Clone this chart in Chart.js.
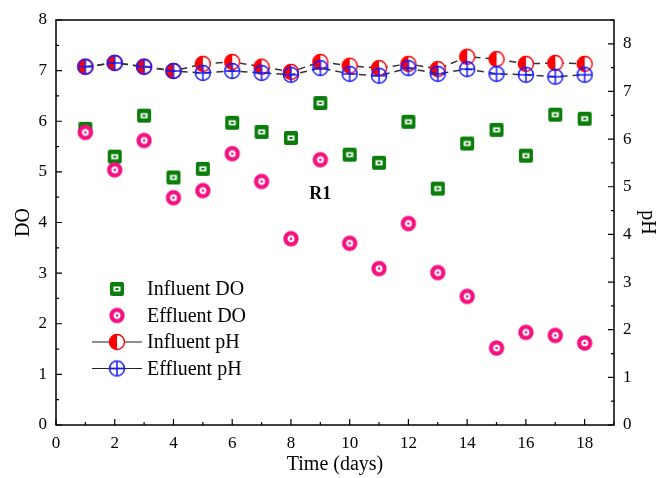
<!DOCTYPE html>
<html>
  <head>
    <meta charset="utf-8" />
    <title>DO and pH, R1</title>
    <script src="https://cdn.jsdelivr.net/npm/chart.js@4"></script>
    <style>
      body { margin: 0; background: #fff; }
      #wrap { width: 659px; height: 478px; }
    </style>
  </head>
  <body>
    <div id="wrap"><canvas id="doPhCanvas"></canvas></div>
    <script>
      const days = [1, 2, 3, 4, 5, 6, 7, 8, 9, 10, 11, 12, 13, 14, 15, 16, 17, 18];
      const influentDO = [5.85, 5.3, 6.11, 4.89, 5.06, 5.97, 5.79, 5.67, 6.36, 5.34, 5.18, 5.99, 4.67, 5.56, 5.83, 5.32, 6.13, 6.05];
      const effluentDO = [5.78, 5.04, 5.62, 4.49, 4.63, 5.36, 4.81, 3.68, 5.24, 3.59, 3.09, 3.98, 3.01, 2.54, 1.52, 1.83, 1.77, 1.62];
      const influentPH = [7.52, 7.6, 7.52, 7.43, 7.58, 7.62, 7.52, 7.41, 7.62, 7.54, 7.49, 7.58, 7.47, 7.73, 7.68, 7.58, 7.6, 7.58];
      const effluentPH = [7.52, 7.6, 7.52, 7.43, 7.39, 7.43, 7.39, 7.35, 7.49, 7.37, 7.33, 7.49, 7.37, 7.47, 7.37, 7.35, 7.31, 7.35];
      const xTicks = [0, 2, 4, 6, 8, 10, 12, 14, 16, 18];
      const doTicks = [0, 1, 2, 3, 4, 5, 6, 7, 8];
      const phTicks = [0, 1, 2, 3, 4, 5, 6, 7, 8];
      const seriesNames = ["Influent DO", "Effluent DO", "Influent pH", "Effluent pH"];
      const plotLabel = "R1";

      const FONT = "'Liberation Serif', 'Times New Roman', serif";
      const GREEN = "#0a7d0a";
      const PINK = "#f5107f";
      const RED = "#ff0000";
      const BLUE = "#1a1aff";

      function makeMarker(kind) {
        const c = document.createElement("canvas");
        c.width = 20;
        c.height = 20;
        const g = c.getContext("2d");
        const m = 10;
        if (kind === "square") {
          g.fillStyle = GREEN;
          g.beginPath();
          g.roundRect(m - 7, m - 7, 14, 14, 2);
          g.fill();
          g.fillStyle = "#fff";
          g.fillRect(m - 3.5, m - 2.5, 7, 5);
          g.fillStyle = GREEN;
          g.fillRect(m - 1.5, m - 1, 3, 2);
        } else if (kind === "ring") {
          g.strokeStyle = PINK;
          g.lineWidth = 4.2;
          g.fillStyle = "#fff";
          g.beginPath();
          g.arc(m, m, 5.6, 0, Math.PI * 2);
          g.fill();
          g.stroke();
          g.fillStyle = PINK;
          g.beginPath();
          g.arc(m, m, 1.3, 0, Math.PI * 2);
          g.fill();
        } else if (kind === "half") {
          g.fillStyle = "#fff";
          g.beginPath();
          g.arc(m, m, 7.5, 0, Math.PI * 2);
          g.fill();
          g.fillStyle = RED;
          g.beginPath();
          g.arc(m, m, 7.5, Math.PI / 2, Math.PI * 1.5);
          g.closePath();
          g.fill();
          g.strokeStyle = RED;
          g.lineWidth = 1.4;
          g.beginPath();
          g.arc(m, m, 7.5, 0, Math.PI * 2);
          g.stroke();
        } else {
          g.strokeStyle = BLUE;
          g.lineWidth = 1.5;
          g.beginPath();
          g.arc(m, m, 7.5, 0, Math.PI * 2);
          g.stroke();
          g.beginPath();
          g.moveTo(m - 7.5, m);
          g.lineTo(m + 7.5, m);
          g.moveTo(m, m - 7.5);
          g.lineTo(m, m + 7.5);
          g.stroke();
        }
        return c;
      }

      const markers = {
        square: makeMarker("square"),
        ring: makeMarker("ring"),
        half: makeMarker("half"),
        cross: makeMarker("cross"),
      };

      function pts(ys) {
        return days.map((d, i) => ({ x: d, y: ys[i] }));
      }

      // frame, inward ticks, the "R1" note and the legend inside the plot
      const decorations = {
        id: "decorations",
        afterDraw(chart) {
          const ctx = chart.ctx;
          const a = chart.chartArea;
          const sx = chart.scales.x;
          const sy = chart.scales.y;
          const sp = chart.scales.y2;
          ctx.save();
          ctx.strokeStyle = "#000";
          ctx.lineWidth = 1.5;
          ctx.strokeRect(a.left, a.top, a.right - a.left, a.bottom - a.top);
          ctx.lineWidth = 1.2;
          ctx.beginPath();
          for (let v = 0; v <= 8; v += 0.5) {
            const y = sy.getPixelForValue(v);
            const len = v % 1 === 0 ? 6 : 3;
            ctx.moveTo(a.left, y);
            ctx.lineTo(a.left + len, y);
          }
          for (let v = 0; v <= 8.5; v += 0.5) {
            const y = sp.getPixelForValue(v);
            const len = v % 1 === 0 ? 6 : 3;
            ctx.moveTo(a.right, y);
            ctx.lineTo(a.right - len, y);
          }
          for (let v = 0; v <= 19; v += 1) {
            const x = sx.getPixelForValue(v);
            const len = v % 2 === 0 ? 6 : 3;
            ctx.moveTo(x, a.bottom);
            ctx.lineTo(x, a.bottom - len);
          }
          ctx.stroke();

          ctx.fillStyle = "#000";
          ctx.font = "bold 18px " + FONT;
          ctx.textAlign = "center";
          ctx.textBaseline = "middle";
          ctx.fillText(plotLabel, sx.getPixelForValue(9), sy.getPixelForValue(4.55));

          const mx = a.left + 61;
          const rows = [
            { mk: markers.square, line: false },
            { mk: markers.ring, line: false },
            { mk: markers.half, line: true },
            { mk: markers.cross, line: true },
          ];
          ctx.font = "20px " + FONT;
          ctx.textAlign = "left";
          rows.forEach((r, i) => {
            const y = a.top + 269 + i * 26.5;
            if (r.line) {
              ctx.strokeStyle = "#222";
              ctx.lineWidth = 1.2;
              ctx.beginPath();
              ctx.moveTo(mx - 25, y);
              ctx.lineTo(mx + 25, y);
              ctx.stroke();
            }
            ctx.drawImage(r.mk, mx - 10, y - 10);
            ctx.fillStyle = "#000";
            ctx.fillText(seriesNames[i], mx + 30, y + 1);
          });
          ctx.restore();
        },
      };

      const lineStyle = {
        showLine: true,
        borderColor: "#333",
        borderWidth: 1.5,
        borderDash: [7, 5],
        pointRadius: 8,
      };

      new Chart(document.getElementById("doPhCanvas"), {
        type: "line",
        data: {
          datasets: [
            Object.assign({ label: seriesNames[3], data: pts(effluentPH), yAxisID: "y2", pointStyle: markers.cross }, lineStyle),
            Object.assign({ label: seriesNames[2], data: pts(influentPH), yAxisID: "y2", pointStyle: markers.half }, lineStyle),
            { label: seriesNames[1], data: pts(effluentDO), yAxisID: "y", showLine: false, pointStyle: markers.ring, pointRadius: 8 },
            { label: seriesNames[0], data: pts(influentDO), yAxisID: "y", showLine: false, pointStyle: markers.square, pointRadius: 8 },
          ],
        },
        options: {
          responsive: true,
          maintainAspectRatio: false,
          animation: false,
          layout: { padding: { top: 20, left: 0, right: 0, bottom: 0 } },
          plugins: { legend: { display: false }, tooltip: { enabled: false } },
          scales: {
            x: {
              type: "linear",
              min: 0,
              max: 19,
              grid: { display: false, drawTicks: false },
              border: { display: false },
              afterBuildTicks: (s) => { s.ticks = xTicks.map((v) => ({ value: v })); },
              afterFit: (s) => { s.height = 53; },
              ticks: { color: "#000", padding: 8, font: { family: FONT, size: 17 } },
              title: { display: true, text: "Time (days)", color: "#000", padding: { top: 0, bottom: 1 }, font: { family: FONT, size: 20 } },
            },
            y: {
              position: "left",
              min: 0,
              max: 8,
              grid: { display: false, drawTicks: false },
              border: { display: false },
              afterBuildTicks: (s) => { s.ticks = doTicks.map((v) => ({ value: v })); },
              afterFit: (s) => { s.width = 56; },
              ticks: { color: "#000", padding: 9, font: { family: FONT, size: 17 } },
              title: { display: true, text: "DO", color: "#000", padding: { top: 12, bottom: 0 }, font: { family: FONT, size: 20 } },
            },
            y2: {
              position: "right",
              min: 0,
              max: 8.5,
              grid: { display: false, drawTicks: false },
              border: { display: false },
              afterBuildTicks: (s) => { s.ticks = phTicks.map((v) => ({ value: v })); },
              afterFit: (s) => { s.width = 45; },
              ticks: { color: "#000", padding: 9, font: { family: FONT, size: 17 } },
              title: { display: true, text: "pH", color: "#000", padding: { top: 0, bottom: 0 }, font: { family: FONT, size: 20 } },
            },
          },
        },
        plugins: [decorations],
      });
    </script>
  </body>
</html>
